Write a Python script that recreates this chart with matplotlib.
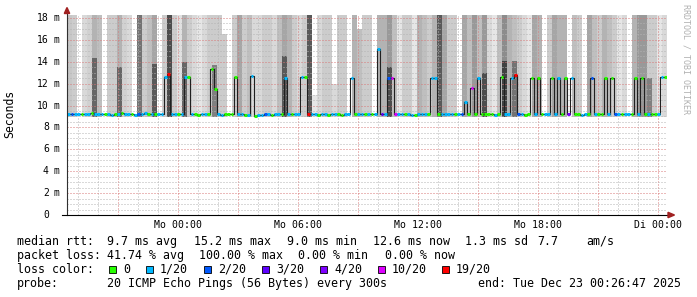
import matplotlib
matplotlib.use("Agg")
import matplotlib.pyplot as plt
from matplotlib.patches import Rectangle, Polygon
import numpy as np

# hours relative to Mon 00:00, 30 h window ending Tue Dec 23 00:26:47
t_start = -5.5536
t_end = 24.4464

# smoke columns, 15 minutes each (light shade, top in ms, darker core top in ms)
smoke_gray = [
    0.78, 0.80, 0, 0.85, 0.82, 0.70, 0.75, 0, 0.80, 0.80, 0.70, 0.82,
    0.85, 0, 0.45, 0.80, 0.75, 0.65, 0, 0.80, 0.30, 0.80, 0.88, 0.70,
    0.80, 0.85, 0.90, 0.85, 0.80, 0.80, 0.80, 0.80, 0, 0.80, 0.65, 0.80,
    0.75, 0.85, 0.85, 0.80, 0.80, 0.85, 0.75, 0.65, 0.70, 0.80, 0.85, 0.80,
    0.35, 0.90, 0.85, 0.80, 0.80, 0.85, 0.80, 0.80, 0, 0.70, 0.75, 0.80,
    0.80, 0, 0.70, 0.70, 0.60, 0.75, 0.90, 0.80, 0.80, 0.90, 0.70, 0.75,
    0.80, 0.70, 0.35, 0.65, 0.80, 0.80, 0, 0.65, 0.75, 0.60, 0.75, 0.60,
    0.85, 0.90, 0.75, 0.55, 0.70, 0.75, 0.80, 0.85, 0.90, 0.65, 0.70, 0,
    0.80, 0.65, 0.70, 0.70, 0, 0.75, 0.80, 0, 0.65, 0.75, 0.80, 0.70,
    0.75, 0.80, 0.90, 0.85, 0, 0.70, 0.60, 0.60, 0.80, 0.80, 0.90, 0.85,
]
smoke_top = [
    18.3, 18.3, 18.3, 18.3, 18.3, 18.3, 18.3, 18.3, 18.3, 18.3, 18.3, 18.3,
    18.3, 18.3, 18.3, 18.3, 18.3, 18.3, 18.3, 18.3, 18.3, 18.3, 18.3, 18.3,
    18.3, 18.3, 18.3, 18.3, 18.3, 18.3, 18.3, 16.5, 18.3, 18.3, 18.3, 18.3,
    18.3, 18.3, 18.3, 18.3, 18.3, 18.3, 18.3, 18.3, 18.3, 18.3, 18.3, 18.3,
    18.3, 11.0, 18.3, 18.3, 18.3, 12.0, 18.3, 18.3, 18.3, 18.3, 17.0, 18.3,
    18.3, 18.3, 18.3, 18.3, 18.3, 18.3, 18.3, 18.3, 18.3, 18.3, 18.3, 18.3,
    18.3, 18.3, 18.3, 18.3, 18.3, 18.3, 18.3, 18.3, 18.3, 18.3, 18.3, 18.3,
    18.3, 18.3, 18.3, 18.3, 18.3, 18.3, 18.3, 18.3, 18.3, 18.3, 18.3, 18.3,
    18.3, 18.3, 18.3, 18.3, 18.3, 18.3, 18.3, 18.3, 18.3, 18.3, 18.3, 18.3,
    18.3, 18.3, 18.3, 18.3, 18.3, 18.3, 18.3, 18.3, 18.3, 18.3, 18.3, 18.3,
]
core_top = [
    0, 0, 0, 0, 0, 14.3, 0, 0, 0, 0, 13.5, 0,
    0, 0, 0, 0, 0, 13.8, 0, 0, 0, 0, 0, 14.0,
    0, 0, 0, 0, 0, 13.7, 0, 0, 0, 0, 0, 0,
    0, 0, 0, 0, 0, 0, 0, 14.5, 0, 0, 0, 0,
    0, 0, 0, 0, 0, 0, 0, 0, 0, 0, 0, 0,
    0, 0, 0, 0, 13.5, 0, 0, 0, 0, 0, 0, 0,
    0, 0, 0, 0, 0, 0, 0, 0, 0, 0, 0, 13.0,
    0, 0, 0, 14.1, 0, 14.1, 0, 0, 0, 0, 0, 0,
    0, 0, 0, 0, 0, 0, 0, 0, 0, 0, 0, 0,
    0, 0, 0, 0, 0, 0, 0, 0, 12.5, 0, 0, 0,
]

# median rtt (ms) and lost pings out of 20, 10 minute steps
median_ms = [
    9.2, 9.2, 9.2, 9.2, 9.2, 9.2, 9.2, 9.3, 9.2, 9.2, 9.2, 9.2, 9.2, 9.1, 9.2, 9.2, 9.3, 9.2,
    9.2, 9.2, 9.1, 9.2, 9.2, 9.3, 9.2, 9.2, 9.2, 9.2, 9.2, 12.6, 12.9, 9.2, 9.2, 9.2, 9.2, 12.6,
    12.6, 9.2, 9.2, 9.1, 9.2, 9.2, 9.2, 13.3, 11.5, 9.2, 9.1, 9.2, 9.2, 9.2, 12.6, 9.2, 9.2, 9.1,
    9.1, 12.7, 9.0, 9.1, 9.1, 9.2, 9.2, 9.1, 9.2, 9.2, 9.2, 12.5, 9.2, 9.2, 9.2, 9.2, 12.6, 12.6,
    9.2, 9.2, 9.2, 9.1, 9.2, 9.2, 9.1, 9.2, 9.2, 9.2, 9.1, 9.2, 9.2, 12.5, 9.2, 9.2, 9.2, 9.2,
    9.2, 9.2, 9.2, 15.2, 9.2, 9.2, 12.5, 12.5, 9.2, 9.2, 9.2, 9.2, 9.2, 9.1, 9.1, 9.2, 9.2, 9.2,
    9.2, 12.5, 12.5, 9.2, 9.2, 9.2, 9.2, 9.2, 9.2, 9.2, 9.2, 10.3, 9.2, 11.6, 9.2, 12.5, 9.2, 9.2,
    9.2, 9.2, 9.1, 9.2, 12.6, 9.2, 9.2, 12.5, 12.8, 9.2, 9.2, 9.1, 9.2, 12.5, 9.2, 12.5, 9.2, 9.2,
    9.2, 12.5, 9.2, 12.5, 9.2, 12.5, 9.2, 12.5, 9.2, 9.2, 9.1, 9.2, 9.2, 12.5, 9.2, 9.2, 9.2, 12.5,
    9.2, 12.5, 9.2, 9.2, 9.2, 9.2, 9.2, 9.2, 12.5, 9.2, 12.5, 9.2, 9.2, 9.2, 9.2, 9.2, 12.6, 12.6,
]
loss_n = [
    1, 2, 1, 1, 0, 1, 1, 0, 1, 1, 1, 0, 1, 1, 0, 1, 0, 1,
    1, 0, 1, 2, 1, 1, 0, 1, 0, 1, 1, 1, 19, 1, 1, 0, 1, 1,
    0, 1, 0, 0, 1, 1, 0, 0, 0, 1, 1, 0, 0, 0, 0, 1, 1, 0,
    1, 1, 0, 1, 1, 2, 1, 0, 1, 1, 0, 1, 1, 0, 1, 1, 1, 0,
    19, 1, 1, 0, 1, 1, 0, 1, 1, 0, 0, 1, 1, 1, 0, 1, 1, 0,
    1, 0, 1, 1, 3, 1, 2, 10, 10, 1, 1, 0, 1, 1, 0, 1, 1, 1,
    0, 1, 1, 0, 1, 1, 1, 1, 0, 1, 2, 1, 0, 10, 0, 1, 0, 0,
    0, 0, 1, 0, 0, 1, 1, 1, 19, 2, 1, 0, 0, 0, 1, 0, 0, 1,
    1, 0, 1, 1, 0, 0, 4, 1, 0, 0, 1, 1, 0, 2, 1, 0, 0, 0,
    1, 0, 2, 1, 0, 1, 1, 0, 0, 1, 0, 0, 1, 0, 0, 1, 1, 0,
]

loss_keys = [0, 1, 2, 3, 4, 10, 19]
loss_labels = ["0", "1/20", "2/20", "3/20", "4/20", "10/20", "19/20"]
loss_colors = ["#26ff00", "#00b8ff", "#0059ff", "#5e00ff", "#7e00ff", "#dd00ff", "#ff0000"]
color_of = dict(zip(loss_keys, loss_colors))

x_ticks = [-3, 0, 3, 6, 9, 12, 15, 18, 21, 24]
x_labels = ["", "Mo 00:00", "", "Mo 06:00", "", "Mo 12:00", "", "Mo 18:00", "", "Di 00:00"]
y_ticks = [0, 2, 4, 6, 8, 10, 12, 14, 16, 18]

MONO = "DejaVu Sans Mono"
W, H = 697, 297

def fx(px):
    return px / W

def fy(py):
    return 1 - py / H

fig = plt.figure(figsize=(W / 100, H / 100), dpi=100)
fig.patch.set_facecolor("white")
ax = fig.add_axes([fx(67), fy(215), 600 / W, 200 / H])
ax.set_xlim(t_start, t_end)
ax.set_ylim(0, 18.27)

# smoke
bottom = 8.95
col_w = 0.25
col_x = t_start + col_w * np.arange(len(smoke_gray))
for x0, g, top, core in zip(col_x, smoke_gray, smoke_top, core_top):
    if g == 0:
        continue
    ax.bar(x0, top - bottom, width=col_w, bottom=bottom, align="edge",
           color=str(g), linewidth=0, antialiased=False, zorder=1)
    if core > 0:
        ax.bar(x0, core - bottom, width=col_w, bottom=bottom, align="edge",
               color=str(max(g - 0.3, 0.2)), linewidth=0, antialiased=False, zorder=1.2)

# median line and loss colour marks
step = 1 / 6
med_x = t_start + step * np.arange(len(median_ms) + 1)
ax.step(med_x, median_ms + [median_ms[-1]], where="post", color="#202020", lw=0.8, zorder=3)
for x0, m, n in zip(med_x[:-1], median_ms, loss_n):
    ax.hlines(m, x0 + 0.02, x0 + 0.15, color=color_of[n], lw=2.2, zorder=4)

# grid
ax.set_xticks(x_ticks)
ax.set_xticklabels(x_labels)
ax.set_xticks(np.arange(-5, 25, 1), minor=True)
ax.set_yticks(y_ticks)
ax.set_yticklabels([])
ax.set_yticks(np.arange(0.5, 18.3, 0.5), minor=True)
ax.set_axisbelow(False)
ax.grid(which="minor", color="#b4b4b4", linestyle=(0, (1, 2)), linewidth=0.72)
ax.grid(which="major", color="#d87878", linestyle=(0, (1, 2)), linewidth=0.72)
ax.tick_params(which="both", length=0)
ax.tick_params(axis="x", pad=3.3, labelsize=7.1)
for lab in ax.get_xticklabels():
    lab.set_fontfamily(MONO)
for s in ax.spines.values():
    s.set_visible(False)

# y labels
ytr = ax.get_yaxis_transform()
for v in y_ticks:
    ax.text((48.8 - 67) / 600, v, str(v), transform=ytr, ha="right", va="center",
            fontsize=7.0, family=MONO)
    if v > 0:
        ax.text((54 - 67) / 600, v, "m", transform=ytr, ha="left", va="center",
                fontsize=7.0, family=MONO)

# axes with arrows
ax.plot([0, 0], [0, 1.025], transform=ax.transAxes, color="#303030", lw=0.8, clip_on=False, zorder=5)
ax.plot([-5 / 600, 1.003], [0, 0], transform=ax.transAxes, color="#000000", lw=0.8, clip_on=False, zorder=5)
fig.add_artist(Polygon([(fx(64.3), fy(13.5)), (fx(69.7), fy(13.5)), (fx(67), fy(7.5))],
                       closed=True, color="#a02020", transform=fig.transFigure))
fig.add_artist(Polygon([(fx(668), fy(212.3)), (fx(668), fy(217.7)), (fx(674.5), fy(215))],
                       closed=True, color="#a02020", transform=fig.transFigure))

fig.text(fx(10), fy(114), "Seconds", rotation=90, ha="center", va="center",
         fontsize=8.3, family=MONO)
fig.text(fx(686), fy(4), "RRDTOOL / TOBI OETIKER", rotation=270, ha="center", va="top",
         fontsize=6.0, family=MONO, color="#b0b0b0")

# legend block
LS = 8.35
rows = [
    (245, [(16.7, "median rtt:"), (107.3, "9.7 ms avg"), (194, "15.2 ms max"),
           (286.7, "9.0 ms min"), (372.7, "12.6 ms now"), (465, "1.3 ms sd"),
           (537, "7.7"), (586.7, "am/s")]),
    (259, [(16.7, "packet loss:"), (107.3, "41.74 % avg"), (199.3, "100.00 % max"),
           (298, "0.00 % min"), (385, "0.00 % now")]),
    (273, [(16.7, "loss color:")]),
    (287, [(16.7, "probe:"), (107.3, "20 ICMP Echo Pings (56 Bytes) every 300s"),
           (478, "end: Tue Dec 23 00:26:47 2025")]),
]
for base, items in rows:
    for px, s in items:
        fig.text(fx(px), fy(base), s, ha="left", va="baseline", fontsize=LS, family=MONO)

box_x = [109, 146, 204, 262, 320, 378, 442]
for bx, lab, c in zip(box_x, loss_labels, loss_colors):
    fig.add_artist(Rectangle((fx(bx), fy(273.3)), 7 / W, 7.5 / H, facecolor=c,
                             edgecolor="black", linewidth=0.6, transform=fig.transFigure))
    fig.text(fx(bx + 14), fy(273), lab, ha="left", va="baseline", fontsize=LS, family=MONO)

fig.savefig("out.png", dpi=100, facecolor="white")
